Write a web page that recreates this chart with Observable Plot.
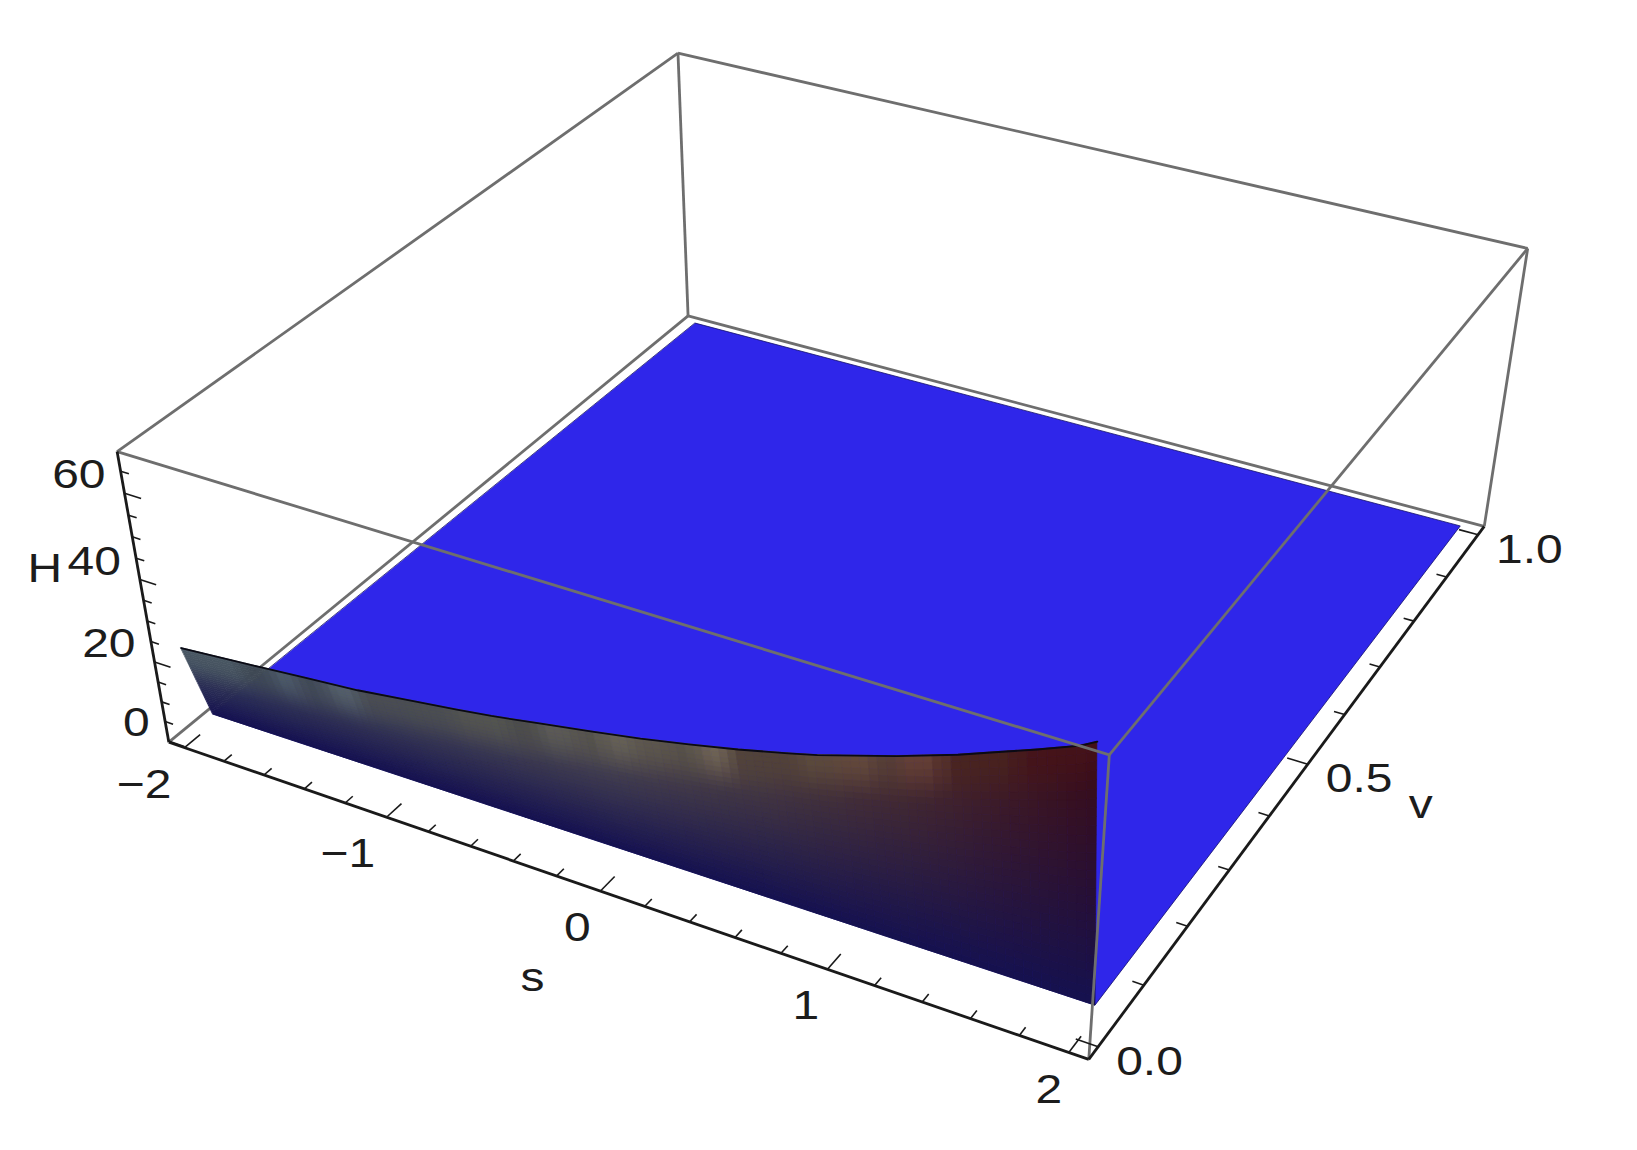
<!DOCTYPE html>
<html>
<head>
<meta charset="utf-8">
<style>html,body{margin:0;padding:0;background:#fff}svg{display:block}</style>
<script src="https://cdn.jsdelivr.net/npm/d3@7"></script>
<script src="https://cdn.jsdelivr.net/npm/@observablehq/plot@0.6"></script>
</head>
<body>
<div id="chart"></div>
<script>
// --- Chart values ---
const sRange = [-2.08, 2.08];
const vRange = [-0.02, 1.02];
const hRange = [-0.3, 69.4];

const sTicks = [-2,-1.8,-1.6,-1.4,-1.2,-1,-0.8,-0.6,-0.4,-0.2,0,0.2,0.4,0.6,0.8,1,1.2,1.4,1.6,1.8,2];
const vTicks = [0,0.1,0.2,0.3,0.4,0.5,0.6,0.7,0.8,0.9,1];
const hTicks = [0,5,10,15,20,25,30,35,40,45,50,55,60,65];
const sLabels = [-2,-1,0,1,2];
const vLabels = [0,0.5,1];
const hLabels = [0,20,40,60];

// Steep wall of the surface H(s,v): crest height along s
const crestS = [-2,-1.625,-1.38,-1.13,-0.9,-0.66,-0.5,-0.28,-0.05,0.17,0.38,0.59,0.8,0.92,1.07,1.24,1.48,1.62,1.78,1.94,2];
const crestH = [22.3,24,25.2,26.4,28,29.7,30.9,32.9,35,37.1,39.4,41.9,44.7,46.4,48.9,51.8,56.3,59.3,62.7,66.3,68.2];
const crestV = 0;                // v at the crest
const footS = [-2.035, 1.975];   // ends of the foot of the wall
const footV = [0.04, 0.05];
const sheetFarS = [-2, 1.99];    // far edge of the flat sheet
const sheetFarV = 1.005;

// Shading read from the wall
const shadeS = [-2,-1,0,0.7,1.3,1.7,2];
const shadeTop = ["#424f5b","#4a4e52","#57534c","#52423a","#4d2d28","#451a1c","#3d0c14"];
const bandEdges = [-2,-1.72,-1.56,-1.42,-1.29,-1.13,-0.68,-0.43,-0.28,-0.13,0,0.14,0.29,0.42,0.56,0.85,1,1.15,1.25,1.42,1.71,2];
const bandTop = ["#4a5966","#3d4754","#4f5e6d","#3f4854","#586671","#4a4d50","#54564f","#4a4b48","#5e5e58","#55534b","#6b6659","#5f5a4e","#57534a","#7a6f5d","#514239","#5f5040","#6a5040","#55423b","#6d463c","#48241f","#46131a"];
const footColor = "#15114f";
const sheetColor = "#2f26ea";
const frameColor = "#6e6e6e";

// --- Camera: calibrated on the eight corners of the frame ---
const frameCorners = [
  [0,0,0,168,742],[1,0,0,1089,1059],[1,1,0,1483,526],[0,1,0,688,315],
  [0,0,1,117,451],[1,0,1,1108,754],[1,1,1,1528,248],[0,1,1,677,53]
];
function solve(A, b) {
  const n = b.length, M = A.map((r, i) => [...r, b[i]]);
  for (let i = 0; i < n; i++) {
    let p = i;
    for (let k = i + 1; k < n; k++) if (Math.abs(M[k][i]) > Math.abs(M[p][i])) p = k;
    [M[i], M[p]] = [M[p], M[i]];
    for (let k = i + 1; k < n; k++) {
      const f = M[k][i] / M[i][i];
      for (let j = i; j <= n; j++) M[k][j] -= f * M[i][j];
    }
  }
  const x = new Array(n).fill(0);
  for (let i = n - 1; i >= 0; i--) {
    let t = M[i][n];
    for (let j = i + 1; j < n; j++) t -= M[i][j] * x[j];
    x[i] = t / M[i][i];
  }
  return x;
}
const cam = (() => {
  const R = [], r = [];
  for (const [a, b, c, u0, v0] of frameCorners) {
    const u = u0 / 1000, v = v0 / 1000;
    R.push([a,b,c,1,0,0,0,0,-u*a,-u*b,-u*c]); r.push(u);
    R.push([0,0,0,0,a,b,c,1,-v*a,-v*b,-v*c]); r.push(v);
  }
  const AtA = Array.from({length: 11}, (_, i) => Array.from({length: 11}, (_, j) => d3.sum(R, row => row[i] * row[j])));
  const Atb = Array.from({length: 11}, (_, i) => d3.sum(R, (row, k) => row[i] * r[k]));
  return solve(AtA, Atb);
})();
function P(s, v, h) {
  const a = (s - sRange[0]) / (sRange[1] - sRange[0]);
  const b = (v - vRange[0]) / (vRange[1] - vRange[0]);
  const c = (h - hRange[0]) / (hRange[1] - hRange[0]);
  const w = cam[8]*a + cam[9]*b + cam[10]*c + 1;
  return [1000*(cam[0]*a + cam[1]*b + cam[2]*c + cam[3]) / w,
          1000*(cam[4]*a + cam[5]*b + cam[6]*c + cam[7]) / w];
}

// --- Derived tables ---
const [s0, s1] = sRange, [v0, v1] = vRange, [h0, h1] = hRange;
const corner = {A:[s0,v0,h0],B:[s1,v0,h0],C:[s1,v1,h0],D:[s0,v1,h0],E:[s0,v0,h1],F:[s1,v0,h1],G:[s1,v1,h1],H:[s0,v1,h1]};
const edges = names => names.map(n => ({a: corner[n[0]], b: corner[n[1]]}));
const link = (data, opts) => Plot.link(data, {
  x1: d => P(...d.a)[0], y1: d => P(...d.a)[1],
  x2: d => P(...d.b)[0], y2: d => P(...d.b)[1], ...opts});

const sTickRows = sTicks.map(s => { const L = sLabels.includes(s) ? 0.026 : 0.013; return {a:[s,v0,h0], b:[s,v0+L,h0]}; });
const vTickRows = vTicks.map(v => { const L = vLabels.includes(v) ? 0.09 : 0.047; return {a:[s1,v,h0], b:[s1-L,v,h0]}; });
const hTickRows = hTicks.map(h => { const L = hLabels.includes(h) ? 0.08 : 0.04; return {a:[s0,v0,h], b:[s0+L,v0,h]}; });

const crestAt = d3.scaleLinear(crestS, crestH);
const footSAt = d3.scaleLinear([-2, 2], footS);
const footVAt = d3.scaleLinear([-2, 2], footV);
const shadeAt = d3.scaleLinear(shadeS, shadeTop).interpolate(d3.interpolateRgb);
const bandAt = s => bandTop[Math.min(bandTop.length - 1, Math.max(0, d3.bisectRight(bandEdges, s) - 1))];
// bands have soft sides in the picture
const softBand = s => {
  const cs = [-0.04, -0.02, 0, 0.02, 0.04].map(e => d3.rgb(bandAt(s + e)));
  return d3.rgb(d3.mean(cs, c => c.r), d3.mean(cs, c => c.g), d3.mean(cs, c => c.b)).formatHex();
};

// shading cells of the wall (rendering of the outline given by crestS/crestH)
const cols = 110, rows = 30, cells = [];
const wallPoint = (s, u) => P(
  footSAt(s) + (s - footSAt(s)) * u,
  footVAt(s) + (crestV - footVAt(s)) * u,
  crestAt(s) * u);
for (let i = 0; i < cols; i++) {
  const a = -2 + 4 * i / cols, b = -2 + 4 * (i + 1) / cols, m = (a + b) / 2;
  const top = shadeAt(m), band = d3.interpolateRgb(top, softBand(m))(0.7);
  const reach = 13 / crestAt(m);   // bands fade out over about 13 units of H below the crest
  for (let j = 0; j < rows; j++) {
    const t0 = j / rows, t1 = (j + 1) / rows, t = (t0 + t1) / 2;
    const base = d3.interpolateRgb(footColor, top)(t);
    const f = Math.max(0, 1 - (1 - t) / reach);
    const c = d3.interpolateRgb(base, band)(f * f * (3 - 2 * f));
    const id = i * rows + j;
    cells.push({id, c, p1: wallPoint(a, t0), p2: wallPoint(a, t1)}, {id, c, p1: wallPoint(b, t0), p2: wallPoint(b, t1)});
  }
}
const crestRows = crestS.map((s, i) => P(s, crestV, crestH[i]));
const sheetRows = [0, 1].map(i => ({p1: P(footS[i], footV[i], 0), p2: P(sheetFarS[i], sheetFarV, 0)}));

const textStyle = {fontFamily: "Liberation Sans, Arial, sans-serif", fontSize: 41, fill: "#1c1c1c", lineAnchor: "middle"};
const label = (data, at, fmt, ox, oy, anchor) => Plot.text(data, {
  x: d => at(d)[0] + (typeof ox === "function" ? ox(d) : ox), y: d => at(d)[1] + oy, text: fmt, textAnchor: anchor, ...textStyle});
const minus = x => String(x).replace("-", "\u2212");

const chart = Plot.plot({
  width: 1637, height: 1150, margin: 0,
  x: {domain: [0, 1637], range: [0, 1637], axis: null},
  y: {domain: [0, 1150], range: [0, 1150], axis: null},
  style: {background: "#fff"},
  marks: [
    link(edges(["AD","DC","DH","EH","HG"]), {stroke: frameColor, strokeWidth: 2.8}),
    Plot.area(sheetRows, {x1: d => d.p1[0], y1: d => d.p1[1], x2: d => d.p2[0], y2: d => d.p2[1], fill: sheetColor, stroke: "#14106a", strokeWidth: 0.8}),
    Plot.area(cells, {x1: d => d.p1[0], y1: d => d.p1[1], x2: d => d.p2[0], y2: d => d.p2[1], z: "id", fill: "c", stroke: "c", strokeWidth: 0.7}),
    Plot.line(crestRows, {x: d => d[0], y: d => d[1], stroke: "#0a0a14", strokeWidth: 1.8}),
    link(edges(["EF","FG","FB","CG"]), {stroke: frameColor, strokeWidth: 2.8}),
    link(edges(["AB","BC","AE"]), {stroke: "#1a1a1a", strokeWidth: 2.8}),
    link(sTickRows, {stroke: "#1a1a1a", strokeWidth: 1.6}),
    link(vTickRows, {stroke: "#1a1a1a", strokeWidth: 1.6}),
    link(hTickRows, {stroke: "#1a1a1a", strokeWidth: 1.6}),
    label(sLabels, s => P(s, v0, h0), minus, s => -9.8 + s * 1.6, 37, "end"),
    label(vLabels, v => P(s1, v, h0), v => v.toFixed(1), 18, 15, "start"),
    label(hLabels, h => P(s0, v0, h), String, -19, -18, "end"),
    label(["s"], () => P(0, v0, h0), d => d, -68, 87, "middle"),
    label(["v"], () => P(s1, 0.5, h0), d => d, 113, 41, "middle"),
    label(["H"], () => P(s0, v0, 40), d => d, -95, -11, "middle")
  ]
});
d3.select(chart).selectAll("text").each(function () {
  const t = this.getAttribute("transform") || "";
  this.setAttribute("transform", t + " scale(1.17,1)");
});
document.getElementById("chart").appendChild(chart);
</script>
</body>
</html>
